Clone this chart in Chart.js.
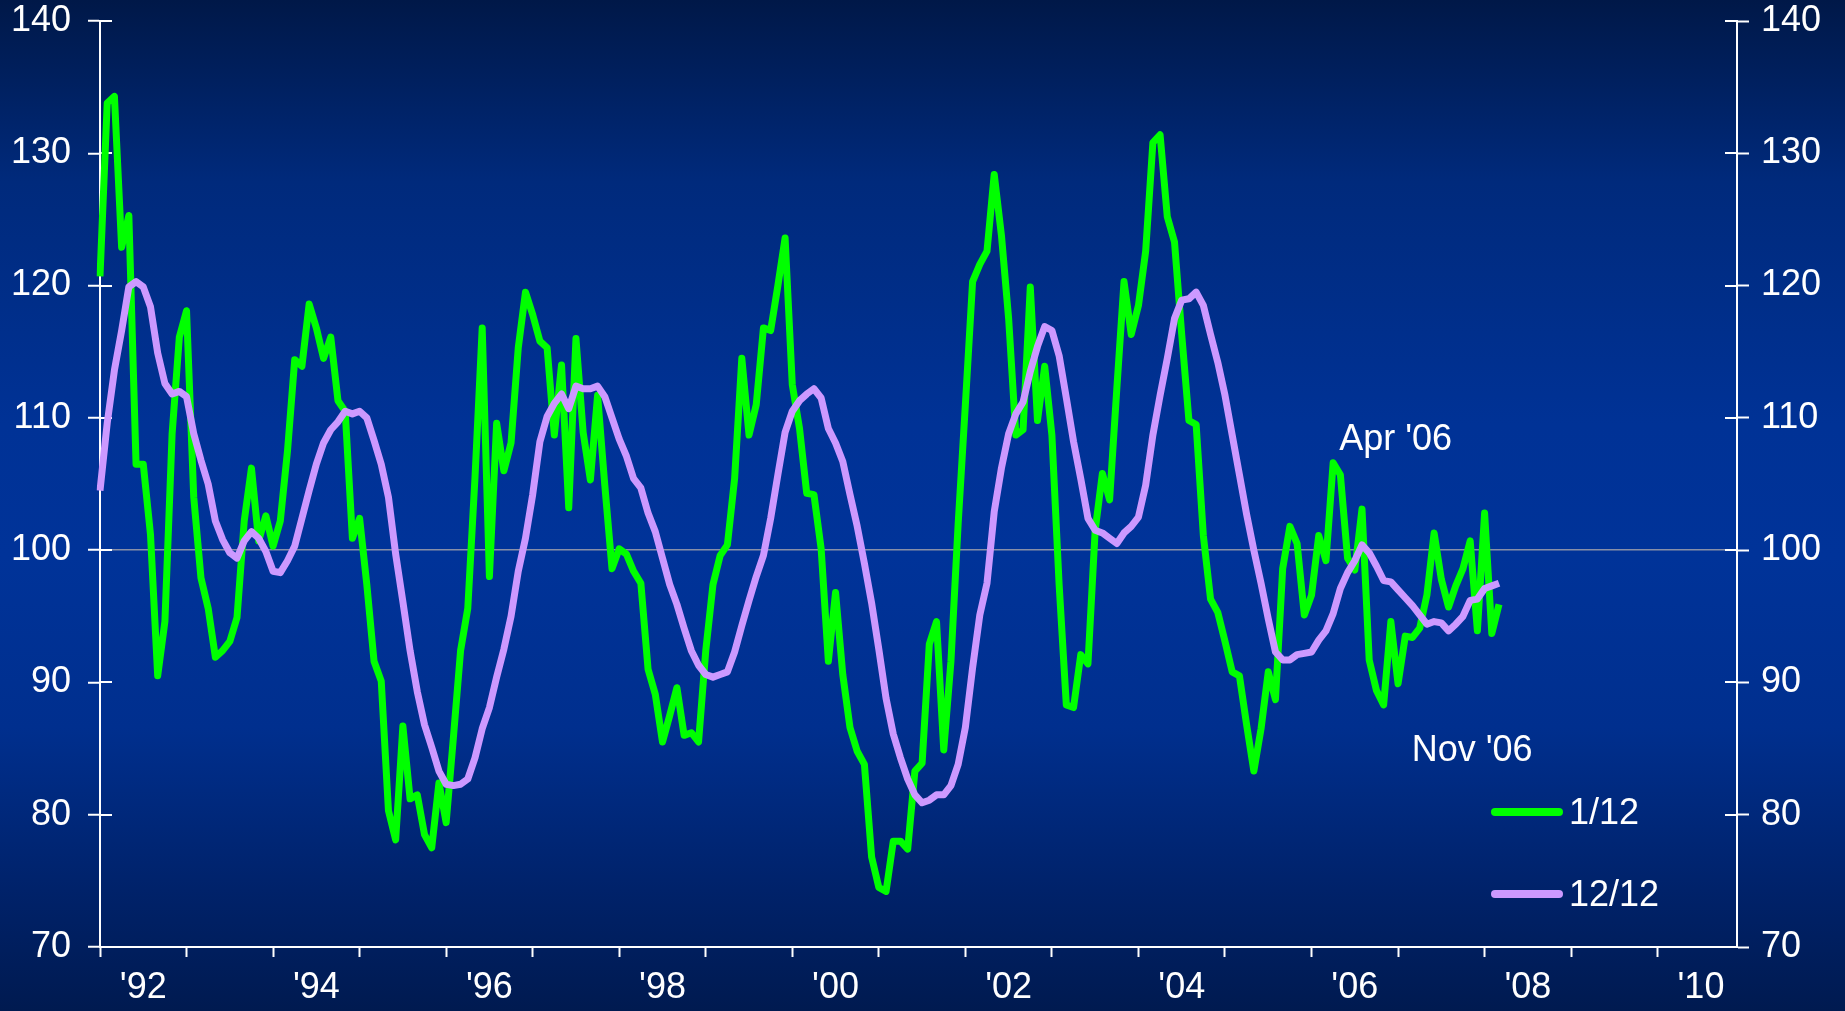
<!DOCTYPE html>
<html>
<head>
<meta charset="utf-8">
<script src="https://cdn.jsdelivr.net/npm/chart.js@4/dist/chart.umd.min.js"></script>
<style>
html,body{margin:0;padding:0;}
body{width:1845px;height:1011px;overflow:hidden;
background:linear-gradient(to bottom,#001848 0%,#002a7c 18%,#003296 42%,#003399 55%,#002f8e 72%,#00226a 88%,#001a50 100%);}
#wrap{position:relative;width:1845px;height:1011px;}
canvas{display:block;}
</style>
</head>
<body>
<div id="wrap"><canvas id="c" width="1845" height="1011"></canvas></div>
<script>
// Categories: monthly, Jan 1992 .. Dec 2010
const firstYear = 1992;
const lastYear = 2010;
const monthNames = ['Jan','Feb','Mar','Apr','May','Jun','Jul','Aug','Sep','Oct','Nov','Dec'];
const months = [];
for (let y = firstYear; y <= lastYear; y++) {
  for (let m = 0; m < 12; m++) months.push(monthNames[m] + ' ' + y);
}
const xTickLabels = ["'92","'94","'96","'98","'00","'02","'04","'06","'08","'10"];
const yTickValues = [70, 80, 90, 100, 110, 120, 130, 140];

// Series 1/12 (Jan 1992 .. Mar 2008)
const series1of12 = [
 120.7,133.8,134.3,122.9,125.3,106.5,106.5,101.2,90.5,94.6,108.8,116.1,
 118.1,104.0,97.9,95.6,91.9,92.4,93.1,94.9,102.2,106.2,100.7,102.6,
 100.3,102.2,107.5,114.4,113.9,118.6,116.8,114.5,116.1,111.3,110.5,100.9,
 102.4,97.4,91.6,90.1,80.3,78.1,86.7,81.2,81.5,78.5,77.5,82.4,
 79.4,85.8,92.4,95.6,105.5,116.8,98.0,109.6,106.0,108.1,115.3,119.5,
 117.8,115.8,115.3,108.7,114.0,103.2,116.0,108.9,105.3,111.7,104.9,98.6,
 100.1,99.7,98.4,97.5,91.0,89.1,85.5,87.5,89.6,86.0,86.2,85.5,
 92.4,97.4,99.6,100.4,105.4,114.5,108.7,111.0,116.8,116.6,120.0,123.6,
 112.5,109.2,104.3,104.2,100.1,91.6,96.8,90.6,86.6,84.8,83.8,76.8,
 74.5,74.2,78.0,78.0,77.4,83.3,83.9,92.9,94.6,84.9,91.6,102.0,
 111.0,120.3,121.6,122.6,128.4,123.8,117.5,108.7,109.1,119.9,109.8,113.9,
 108.7,97.4,88.3,88.1,92.1,91.4,101.5,105.8,103.8,112.2,120.3,116.3,
 118.5,122.6,130.8,131.4,125.2,123.3,116.3,109.8,109.5,101.1,96.3,95.3,
 93.1,90.8,90.5,86.8,83.3,86.5,90.8,88.7,98.6,101.8,100.5,95.1,
 96.6,101.1,99.2,106.6,105.7,99.4,98.5,103.1,91.7,89.4,88.3,94.6,
 89.9,93.5,93.4,94.1,96.6,101.3,97.8,95.7,97.3,98.6,100.7,93.9,
 102.8,93.7,95.9
];
// Series 12/12 (Jan 1992 .. Mar 2008)
const series12of12 = [
 104.5,109.6,113.6,116.6,119.9,120.3,119.9,118.4,114.9,112.6,111.8,112.0,
 111.6,108.8,106.8,105.0,102.2,100.8,99.8,99.4,100.7,101.4,100.9,99.9,
 98.4,98.3,99.2,100.3,102.4,104.5,106.5,108.1,109.1,109.7,110.5,110.3,
 110.5,110.0,108.3,106.5,104.0,99.7,96.1,92.4,89.3,86.8,85.1,83.3,
 82.3,82.2,82.3,82.7,84.3,86.5,88.1,90.4,92.5,95.0,98.4,100.9,
 104.2,108.2,110.1,111.1,111.8,110.7,112.4,112.2,112.2,112.4,111.6,110.0,
 108.4,107.1,105.4,104.7,102.8,101.4,99.4,97.4,95.9,94.1,92.4,91.3,
 90.6,90.4,90.6,90.8,92.3,94.3,96.2,98.0,99.6,102.4,105.7,108.9,
 110.5,111.3,111.8,112.2,111.5,109.2,108.1,106.7,104.2,101.8,99.0,96.0,
 92.5,88.8,86.1,84.3,82.7,81.5,80.9,81.1,81.5,81.5,82.2,83.8,
 86.6,91.1,95.1,97.5,102.9,106.2,108.8,110.3,111.2,113.5,115.4,116.9,
 116.6,114.7,111.5,108.2,105.4,102.4,101.5,101.3,100.9,100.5,101.3,101.8,
 102.5,104.9,108.7,111.7,114.5,117.5,118.9,119.0,119.5,118.5,116.3,114.2,
 111.7,108.7,105.7,102.7,100.0,97.5,94.8,92.3,91.7,91.7,92.1,92.2,
 92.3,93.2,93.9,95.2,97.1,98.3,99.2,100.4,99.8,98.8,97.7,97.6,
 97.0,96.4,95.8,95.1,94.4,94.6,94.5,93.9,94.4,95.0,96.2,96.3,
 97.1,97.3,97.5
];
const seriesNames = ['1/12', '12/12'];
const notes = [
  {text: "Apr '06", month: 'Apr 2006', dx: 6, dy: -13},
  {text: "Nov '06", month: 'Nov 2006', dx: 28, dy: 56}
];

const FONT = '"Liberation Sans", Arial, Helvetica, sans-serif';
const WHITE = '#ffffff';
const CLEAR = 'rgba(0,0,0,0)';

// Inner halves of the y-axis tick marks (ticks cross both axes)
const innerTicks = {
  id: 'innerTicks',
  beforeDatasetsDraw(chart) {
    const c = chart.ctx, a = chart.chartArea, ys = chart.scales.y;
    c.save();
    c.strokeStyle = WHITE; c.lineWidth = 2;
    yTickValues.forEach(v => {
      const py = Math.round(ys.getPixelForValue(v));
      c.beginPath();
      c.moveTo(a.left, py); c.lineTo(a.left + 12, py);
      c.moveTo(a.right - 12, py); c.lineTo(a.right + 1, py);
      c.stroke();
    });
    c.restore();
  }
};

const notesPlugin = {
  id: 'notes',
  afterDatasetsDraw(chart) {
    const c = chart.ctx, xs = chart.scales.x, ys = chart.scales.y;
    const d = chart.data.datasets[0].data;
    c.save();
    c.fillStyle = WHITE;
    c.font = '36px ' + FONT;
    c.textBaseline = 'alphabetic';
    c.textAlign = 'left';
    notes.forEach(n => {
      const i = months.indexOf(n.month);
      c.fillText(n.text, xs.getPixelForValue(i) + n.dx, ys.getPixelForValue(d[i]) + n.dy);
    });
    c.restore();
  }
};

const legendPlugin = {
  id: 'customLegend',
  afterDatasetsDraw(chart) {
    const c = chart.ctx, a = chart.chartArea;
    const x0 = a.right - 242, x1 = a.right - 178, tx = a.right - 168;
    const rows = [a.bottom - 135, a.bottom - 53];
    c.save();
    chart.data.datasets.forEach((ds, k) => {
      c.strokeStyle = ds.borderColor; c.lineWidth = 8; c.lineCap = 'round';
      c.beginPath(); c.moveTo(x0, rows[k]); c.lineTo(x1, rows[k]); c.stroke();
      c.fillStyle = WHITE; c.font = '36px ' + FONT;
      c.textBaseline = 'middle'; c.textAlign = 'left';
      c.fillText(ds.label, tx, rows[k] + 2);
    });
    c.restore();
  }
};

const yTicksCommon = {
  stepSize: 10, color: WHITE, font: {family: FONT, size: 36}
};
const fitY = (w) => (s) => { s.width = w; s.paddingTop = 0; s.paddingBottom = 0; };

new Chart(document.getElementById('c'), {
  type: 'line',
  data: {
    labels: months,
    datasets: [
      {label: seriesNames[0], data: series1of12, borderColor: '#00ff00', borderWidth: 7,
       pointRadius: 0, tension: 0, borderJoinStyle: 'round', yAxisID: 'y', order: 2},
      {label: seriesNames[1], data: series12of12, borderColor: '#cc99ff', borderWidth: 7,
       pointRadius: 0, tension: 0, borderJoinStyle: 'round', yAxisID: 'y', order: 1}
    ]
  },
  options: {
    responsive: false, animation: false, devicePixelRatio: 1,
    layout: {padding: {top: 21, left: 0, right: 0, bottom: 0}},
    plugins: {legend: {display: false}, tooltip: {enabled: false}},
    scales: {
      x: {
        type: 'category', offset: false,
        grid: {display: true, drawOnChartArea: false, drawTicks: true, tickLength: 10, tickWidth: 2,
               tickColor: (ctx) => (ctx.index % 12 === 0 ? WHITE : CLEAR)},
        border: {display: true, color: WHITE, width: 2},
        ticks: {autoSkip: false, maxRotation: 0, minRotation: 0, color: WHITE, padding: 9,
                font: {family: FONT, size: 36},
                callback: (v, i) => (i % 24 === 6 ? xTickLabels[(i - 6) / 24] : '')},
        afterFit: (s) => { s.height = 64; s.paddingLeft = 0; s.paddingRight = 0; }
      },
      y: {
        position: 'left', min: 70, max: 140,
        ticks: Object.assign({}, yTicksCommon, {padding: 17}),
        grid: {drawOnChartArea: true, drawTicks: true, tickLength: 12, tickWidth: 2, tickColor: WHITE,
               lineWidth: 1.5,
               color: (ctx) => (ctx.tick && ctx.tick.value === 100 ? 'rgba(160,160,170,0.85)' : CLEAR)},
        border: {display: true, color: WHITE, width: 2},
        afterFit: fitY(100)
      },
      y2: {
        position: 'right', min: 70, max: 140,
        ticks: Object.assign({}, yTicksCommon, {padding: 12}),
        grid: {drawOnChartArea: false, drawTicks: true, tickLength: 12, tickWidth: 2, tickColor: WHITE},
        border: {display: true, color: WHITE, width: 2},
        afterFit: fitY(108)
      }
    }
  },
  plugins: [innerTicks, notesPlugin, legendPlugin]
});
</script>
</body>
</html>
